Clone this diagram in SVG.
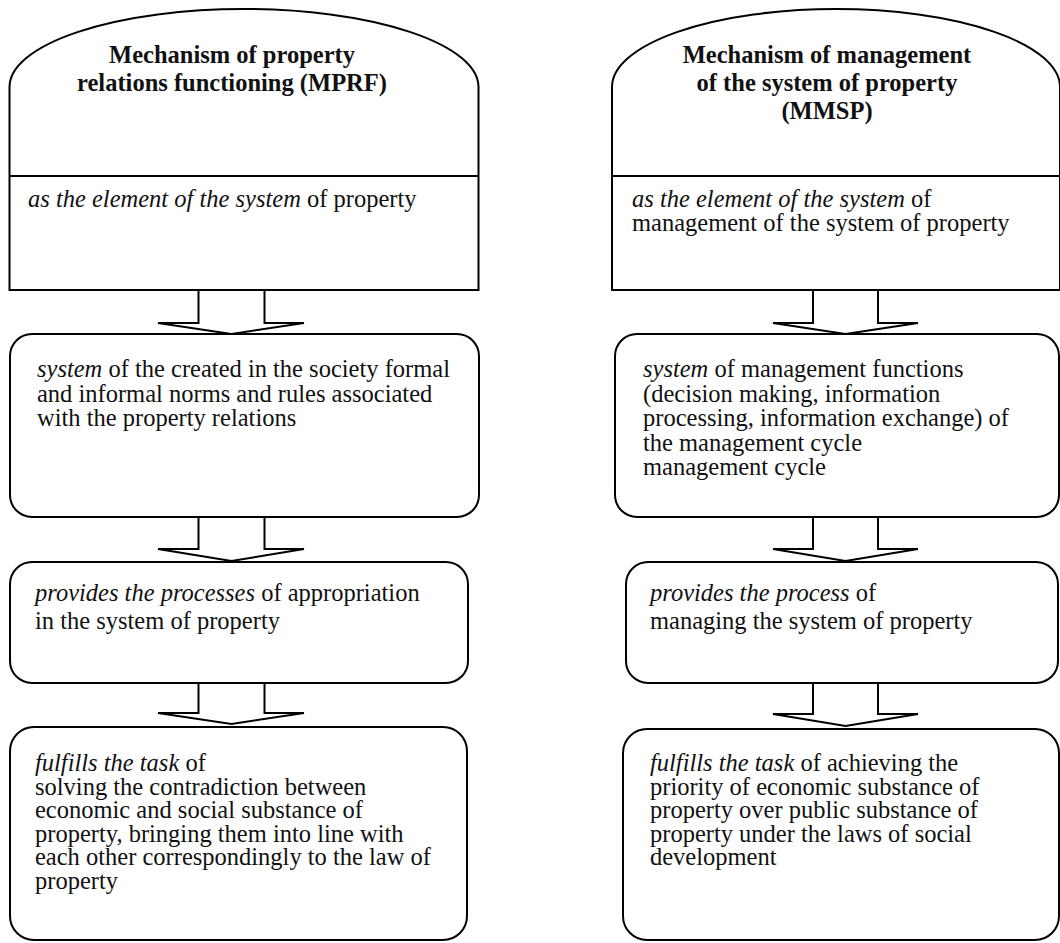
<svg xmlns="http://www.w3.org/2000/svg" width="1060" height="943" viewBox="0 0 1060 943">
  <style>
    .shape { fill: #fff; stroke: #000; stroke-width: 2; }
    .arrow { fill: #fff; stroke: #000; stroke-width: 2; stroke-linejoin: miter; }
    text { font-family: "Liberation Serif", "Times New Roman", serif; font-size: 24.5px; fill: #111; }
    .title { font-weight: bold; text-anchor: middle; }
    .it { font-style: italic; }
  </style>
  <rect width="1060" height="943" fill="#fff"/>

  <!-- Left column: MPRF -->
  <g id="mprf-header">
    <path class="shape" d="M9.5,290 V87 A234.5,78 0 0 1 478.5,87 V290 Z"/>
    <line class="shape" x1="9.5" y1="176" x2="478.5" y2="176"/>
    <text class="title" x="232" y="63">Mechanism of property</text>
    <text class="title" x="232" y="91">relations functioning (MPRF)</text>
    <text x="28" y="207"><tspan class="it">as the element of the system</tspan> of property</text>
  </g>
  <g id="mprf-system">
    <rect class="shape" x="10" y="334" width="469" height="183" rx="22" ry="22"/>
    <text x="37" y="377"><tspan class="it">system</tspan> of the created in the society formal</text>
    <text x="37" y="401.5">and informal norms and rules associated</text>
    <text x="37" y="426">with the property relations</text>
  </g>
  <g id="mprf-process">
    <rect class="shape" x="10" y="562" width="458" height="121" rx="22" ry="22"/>
    <text x="35" y="601"><tspan class="it">provides the processes</tspan> of appropriation</text>
    <text x="35" y="629">in the system of property</text>
  </g>
  <g id="mprf-task">
    <rect class="shape" x="10" y="727" width="457" height="213" rx="24" ry="24"/>
    <text x="35" y="771"><tspan class="it">fulfills the task</tspan> of</text>
    <text x="35" y="794.5">solving the contradiction between</text>
    <text x="35" y="818">economic and social substance of</text>
    <text x="35" y="841.5">property, bringing them into line with</text>
    <text x="35" y="865">each other correspondingly to the law of</text>
    <text x="35" y="888.5">property</text>
  </g>

  <!-- Right column: MMSP -->
  <g id="mmsp-header">
    <path class="shape" d="M612,290 V87 A224,78 0 0 1 1060,87 V290 Z"/>
    <line class="shape" x1="612" y1="176" x2="1060" y2="176"/>
    <text class="title" x="827" y="63">Mechanism of management</text>
    <text class="title" x="827" y="91">of the system of property</text>
    <text class="title" x="827" y="119">(MMSP)</text>
    <text x="632" y="207"><tspan class="it">as the element of the system</tspan>  of</text>
    <text x="632" y="231">management of the system of property</text>
  </g>
  <g id="mmsp-system">
    <rect class="shape" x="615" y="334" width="444" height="183" rx="22" ry="22"/>
    <text x="643" y="377"><tspan class="it">system</tspan> of management functions</text>
    <text x="643" y="401.5">(decision making, information</text>
    <text x="643" y="426">processing, information exchange) of</text>
    <text x="643" y="450.5">the management cycle</text>
    <text x="643" y="475">management cycle</text>
  </g>
  <g id="mmsp-process">
    <rect class="shape" x="626" y="562" width="432" height="121" rx="22" ry="22"/>
    <text x="650" y="601"><tspan class="it">provides the process</tspan> of</text>
    <text x="650" y="629">managing the system of property</text>
  </g>
  <g id="mmsp-task">
    <rect class="shape" x="623" y="729" width="436" height="211" rx="24" ry="24"/>
    <text x="650" y="771"><tspan class="it">fulfills the task</tspan> of achieving the</text>
    <text x="650" y="794.5">priority of economic substance of</text>
    <text x="650" y="818">property over public substance of</text>
    <text x="650" y="841.5">property under the laws of social</text>
    <text x="650" y="865">development</text>
  </g>

  <!-- Block arrows between stages -->
  <g id="connectors">
    <path class="arrow" d="M198.5,291 V323 H158 L231.5,334 L304,323 H264.5 V291"/>
    <path class="arrow" d="M198.5,518 V549 H158 L231.5,561 L304,549 H264.5 V518"/>
    <path class="arrow" d="M198.5,684 V713 H158 L231.5,724 L304,713 H264.5 V684"/>
    <path class="arrow" d="M813,291 V323 H773 L845.5,334 L918,323 H878 V291"/>
    <path class="arrow" d="M813,518 V549 H773 L845.5,561 L918,549 H878 V518"/>
    <path class="arrow" d="M813,684 V714 H773 L845.5,726 L918,714 H878 V684"/>
  </g>
</svg>
